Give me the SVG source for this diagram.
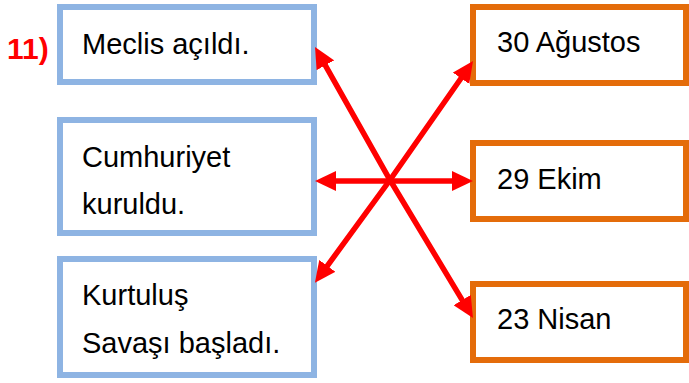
<svg xmlns="http://www.w3.org/2000/svg" width="689" height="383" viewBox="0 0 689 383">
<style>
.l{fill:#fff;stroke:#8EB4E3;stroke-width:6}
.r{fill:#fff;stroke:#E46C0A;stroke-width:6}
.t{font-family:"Liberation Sans",Arial,sans-serif;font-size:29px;fill:#000}
.num{font-family:"Liberation Sans",Arial,sans-serif;font-size:30px;font-weight:bold;fill:#FF0000}
.c{fill:none;stroke:#FF0000;stroke-width:5.5;stroke-linejoin:miter;marker-start:url(#ah);marker-end:url(#ah)}
</style>
<defs>
<marker id="ah" markerUnits="userSpaceOnUse" markerWidth="21" markerHeight="20" viewBox="0 0 21 20" refX="8" refY="10" orient="auto-start-reverse">
<path d="M0,0 L21,10 L0,20 z" fill="#FF0000"/>
</marker>
</defs>
<text class="num" x="7" y="59">11)</text>
<g id="n1"><rect class="l" x="60" y="7" width="254" height="75"/><text class="t" x="82" y="54">Meclis açıldı.</text></g>
<g id="n2"><rect class="l" x="60" y="120" width="254" height="113"/><text class="t" x="82" y="167">Cumhuriyet</text><text class="t" x="82" y="214">kuruldu.</text></g>
<g id="n3"><rect class="l" x="60" y="259" width="254" height="116"/><text class="t" x="82" y="305">Kurtuluş</text><text class="t" x="82" y="353">Savaşı başladı.</text></g>
<g id="n4"><rect class="r" x="473" y="7" width="213" height="76"/><text class="t" x="497" y="52">30 Ağustos</text></g>
<g id="n5"><rect class="r" x="473" y="143" width="213" height="76"/><text class="t" x="497" y="189">29 Ekim</text></g>
<g id="n6"><rect class="r" x="473" y="284" width="213" height="76"/><text class="t" x="497" y="329">23 Nisan</text></g>
<g id="connectors">
<path class="c" d="M321.4,58.3 L390,180 L466.3,306.9"/>
<path class="c" d="M465.6,71.7 L390,180 L322.6,272.3"/>
<path class="c" d="M328,181 L460,181"/>
</g>
</svg>
